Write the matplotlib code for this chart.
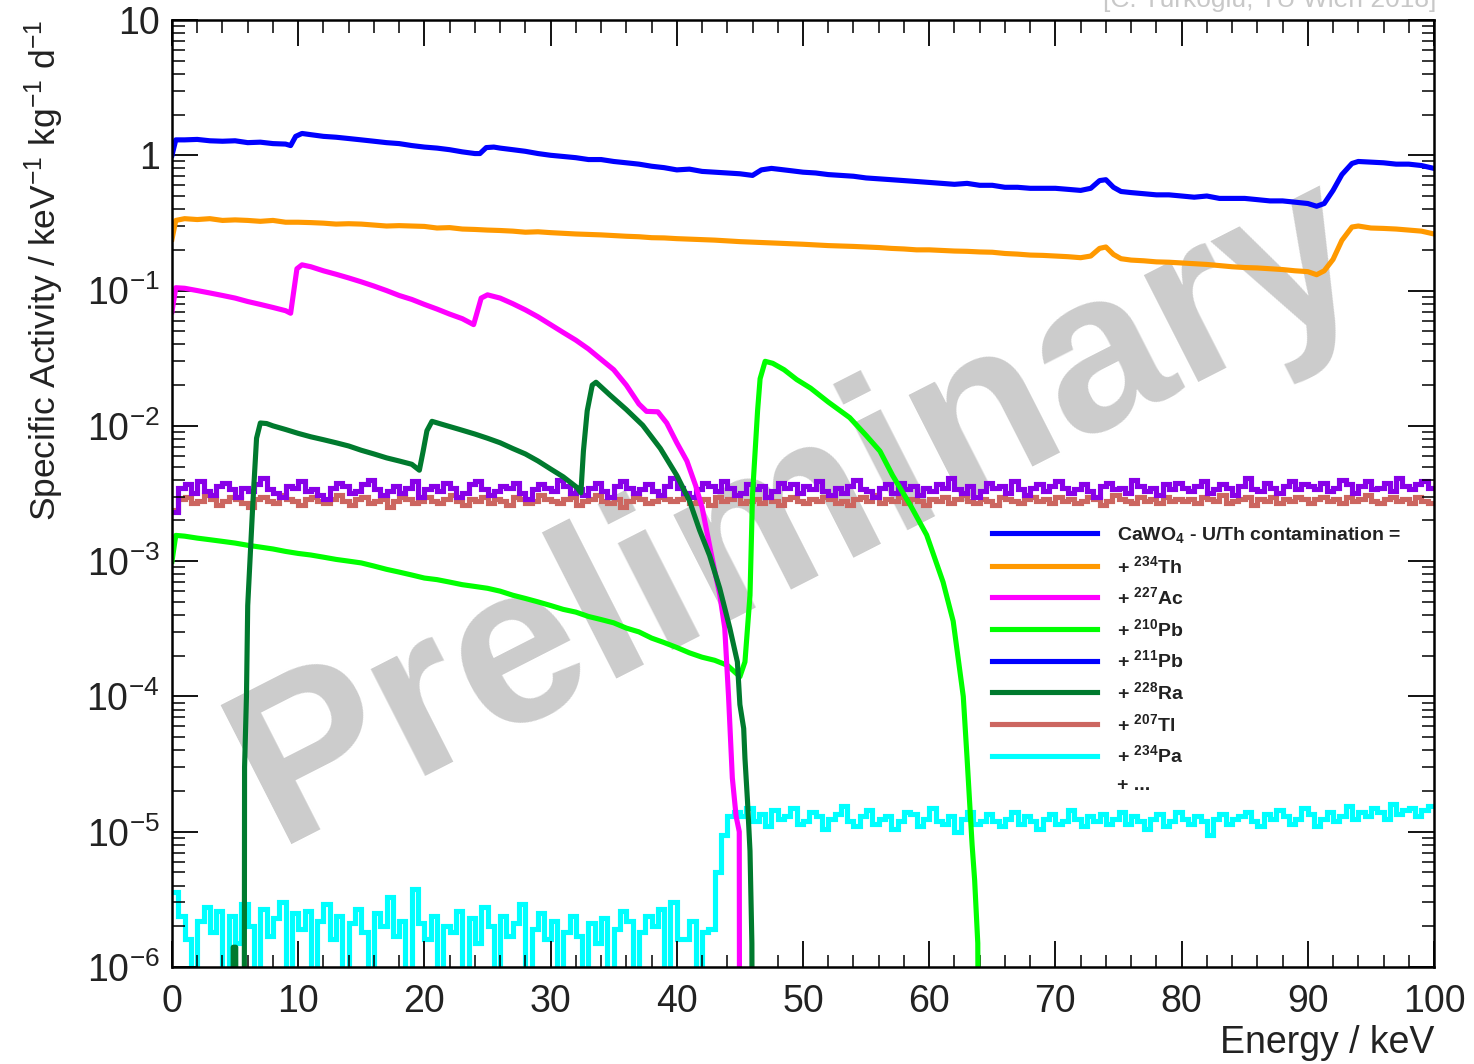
import numpy as np
import matplotlib
matplotlib.use("Agg")
import matplotlib.pyplot as plt
from matplotlib.lines import Line2D
from matplotlib.ticker import LogLocator, FuncFormatter, MultipleLocator

plt.rcParams["font.family"] = ["Liberation Sans", "DejaVu Sans"]
plt.rcParams["mathtext.fontset"] = "custom"
plt.rcParams["mathtext.rm"] = "Liberation Sans"
plt.rcParams["mathtext.it"] = "Liberation Sans:italic"
plt.rcParams["mathtext.bf"] = "Liberation Sans:bold"

# ---- smooth spectra (keV, counts / keV / kg / d) ----
total_x = [0, 0.3, 1, 2, 3, 4, 5, 6, 7, 8, 9, 9.4, 9.8, 10.3, 11, 12, 13, 14, 15, 16,
           17, 18, 19, 20, 21, 22, 23, 24, 24.4, 24.9, 25.5, 26, 27, 28, 29, 30, 31, 32, 33, 34,
           35, 36, 37, 38, 39, 40, 41, 42, 43, 44, 45, 46, 46.7, 47.5, 48, 49, 50, 51, 52, 53,
           54, 55, 56, 57, 58, 59, 60, 61, 62, 63, 64, 65, 66, 67, 68, 69, 70, 71, 72, 72.8,
           73.5, 74, 74.6, 75.2, 76, 77, 78, 79, 80, 81, 82, 83, 84, 85, 86, 87, 88, 89, 90, 90.7,
           91.3, 92, 92.7, 93.5, 94, 95, 96, 97, 98, 99, 100]
total_y = [1.0, 1.30, 1.30, 1.31, 1.28, 1.27, 1.28, 1.24, 1.25, 1.22, 1.21, 1.18, 1.38, 1.45, 1.42, 1.38, 1.36, 1.33, 1.30, 1.27,
           1.24, 1.22, 1.18, 1.15, 1.13, 1.10, 1.06, 1.03, 1.03, 1.14, 1.15, 1.13, 1.10, 1.07, 1.03, 1.00, 0.98, 0.96, 0.93, 0.93,
           0.90, 0.88, 0.86, 0.83, 0.81, 0.78, 0.79, 0.76, 0.75, 0.74, 0.73, 0.71, 0.78, 0.80, 0.79, 0.77, 0.75, 0.74, 0.72, 0.71,
           0.70, 0.68, 0.67, 0.66, 0.65, 0.64, 0.63, 0.62, 0.61, 0.62, 0.60, 0.60, 0.58, 0.58, 0.57, 0.57, 0.57, 0.56, 0.55, 0.57,
           0.65, 0.66, 0.58, 0.54, 0.53, 0.52, 0.51, 0.51, 0.50, 0.49, 0.50, 0.48, 0.48, 0.48, 0.47, 0.46, 0.46, 0.45, 0.44, 0.42,
           0.44, 0.55, 0.72, 0.87, 0.90, 0.89, 0.88, 0.86, 0.86, 0.84, 0.80]

th234_x = [0, 0.3, 1, 2, 3, 4, 5, 6, 7, 8, 9, 10, 11, 12, 13, 14, 15, 16, 17, 18,
           19, 20, 21, 22, 23, 24, 25, 26, 27, 28, 29, 30, 31, 32, 33, 34, 35, 36, 37, 38,
           39, 40, 41, 42, 43, 44, 45, 46, 47, 48, 49, 50, 52, 54, 55, 56, 57, 58, 59, 60,
           61, 62, 63, 64, 65, 66, 67, 68, 69, 70, 71, 72, 72.8, 73.5, 74, 74.6, 75.2, 76, 77, 78,
           79, 80, 81, 82, 83, 84, 85, 86, 87, 88, 89, 90, 90.7, 91.3, 92, 92.7, 93.5, 94, 95, 96,
           97, 98, 99, 100]
th234_y = [0.24, 0.33, 0.34, 0.335, 0.34, 0.33, 0.333, 0.33, 0.325, 0.33, 0.32, 0.32, 0.318, 0.315, 0.31, 0.312, 0.31, 0.305, 0.30, 0.302,
           0.30, 0.298, 0.29, 0.292, 0.285, 0.283, 0.28, 0.278, 0.275, 0.27, 0.272, 0.268, 0.265, 0.262, 0.26, 0.258, 0.255, 0.252, 0.25, 0.246,
           0.245, 0.242, 0.24, 0.238, 0.236, 0.233, 0.23, 0.228, 0.226, 0.224, 0.222, 0.22, 0.215, 0.212, 0.21, 0.208, 0.205, 0.203, 0.20, 0.20,
           0.198, 0.196, 0.195, 0.193, 0.192, 0.188, 0.186, 0.183, 0.182, 0.18, 0.178, 0.175, 0.18, 0.205, 0.21, 0.185, 0.172, 0.168, 0.166, 0.163,
           0.162, 0.16, 0.158, 0.156, 0.153, 0.15, 0.148, 0.147, 0.145, 0.143, 0.14, 0.138, 0.131, 0.14, 0.17, 0.235, 0.295, 0.30, 0.29, 0.288,
           0.285, 0.28, 0.275, 0.262]

ac227_x = [0, 0.3, 1, 2, 3, 4, 5, 6, 7, 8, 9, 9.4, 9.9, 10.3, 11, 12, 13, 14, 15, 16,
           17, 18, 19, 20, 21, 22, 23, 23.9, 24.5, 25, 26, 27, 28, 29, 30, 31, 32, 33, 34, 35,
           36, 37, 37.6, 38.5, 39.2, 40, 40.8, 41.5, 42, 42.6, 43, 43.4, 43.8, 44.1, 44.4, 44.7, 44.95, 45.0, 100]
ac227_y = [0.07, 0.105, 0.104, 0.10, 0.096, 0.092, 0.088, 0.083, 0.079, 0.075, 0.071, 0.068, 0.145, 0.155, 0.150, 0.140, 0.132, 0.124, 0.116, 0.108,
           0.100, 0.092, 0.086, 0.079, 0.073, 0.067, 0.062, 0.056, 0.088, 0.093, 0.088, 0.080, 0.072, 0.064, 0.056, 0.049, 0.043, 0.037, 0.031, 0.026,
           0.020, 0.0145, 0.0128, 0.0127, 0.0105, 0.0075, 0.0055, 0.0036, 0.0025, 0.0013, 8.5e-4, 5.7e-4, 3.2e-4, 1.0e-4, 2.5e-5, 1.3e-5, 1.0e-5, 1e-9, 1e-9]

pb210_x = [0, 0.3, 1, 2, 3, 4, 5, 6, 7, 8, 9, 10, 11, 12, 13, 14, 15, 16, 17, 18,
           19, 20, 21, 22, 23, 24, 25, 26, 27, 28, 29, 30, 31, 32, 33, 34, 35, 36, 37, 38,
           39, 40, 41, 42, 43, 44, 45, 45.4, 45.8, 46.0, 46.4, 46.6, 47.0, 47.6, 48.5, 49.5, 50.6, 52, 53.7, 55,
           56.1, 57.1, 58.5, 59.8, 61.1, 61.9, 62.7, 63.0, 63.4, 63.6, 63.85, 64.0, 100]
pb210_y = [1.0e-3, 1.55e-3, 1.53e-3, 1.48e-3, 1.44e-3, 1.40e-3, 1.36e-3, 1.31e-3, 1.27e-3, 1.23e-3, 1.18e-3, 1.14e-3, 1.11e-3, 1.07e-3, 1.03e-3, 1.0e-3, 9.7e-4, 9.2e-4, 8.7e-4, 8.3e-4,
           7.9e-4, 7.5e-4, 7.3e-4, 7.0e-4, 6.7e-4, 6.5e-4, 6.3e-4, 6.0e-4, 5.6e-4, 5.3e-4, 5.0e-4, 4.7e-4, 4.4e-4, 4.2e-4, 3.9e-4, 3.7e-4, 3.5e-4, 3.2e-4, 3.0e-4, 2.7e-4,
           2.5e-4, 2.3e-4, 2.1e-4, 1.95e-4, 1.85e-4, 1.7e-4, 1.4e-4, 1.8e-4, 5.6e-4, 3.1e-3, 0.0129, 0.0223, 0.030, 0.029, 0.026, 0.022, 0.019, 0.015, 0.0115, 0.0085,
           0.0065, 0.0043, 0.0026, 0.00156, 7.0e-4, 3.6e-4, 1.0e-4, 3.5e-5, 8e-6, 4.4e-6, 1.5e-6, 1e-9, 1e-9]

ra228_x = [0, 4.8, 4.85, 5.05, 5.1, 5.7, 5.75, 5.9, 6.0, 6.4, 6.7, 7.0, 7.5, 8, 9, 10, 11, 12, 13, 14,
           15, 16, 17, 18, 19, 19.6, 19.9, 20.2, 20.6, 21.5, 22.8, 24, 25, 26, 27, 28, 29, 30, 31, 32.1,
           32.4, 32.6, 32.9, 33.3, 33.6, 34.7, 36, 37.3, 38.7, 40.0, 41.0, 41.8, 42.6, 43.4, 44.2, 44.8, 45.0, 45.3, 45.4, 45.6,
           45.8, 45.95, 46.05, 100]
ra228_y = [1e-9, 1e-9, 1.4e-6, 1.4e-6, 1e-9, 1e-9, 3e-5, 1.0e-4, 4.7e-4, 2.6e-3, 8.1e-3, 0.0105, 0.0104, 0.0100, 0.0094, 0.0088, 0.0083, 0.0079, 0.0075, 0.0071,
           0.0066, 0.0062, 0.0058, 0.0055, 0.0052, 0.0047, 0.0065, 0.0092, 0.0108, 0.0102, 0.0094, 0.0087, 0.0081, 0.0075, 0.0068, 0.0062, 0.0055, 0.0048, 0.0042, 0.0035,
           0.0032, 0.0065, 0.0129, 0.020, 0.021, 0.0169, 0.0132, 0.0101, 0.0068, 0.0043, 0.0028, 0.0017, 0.0011, 6.3e-4, 3.2e-4, 1.8e-4, 8.7e-5, 5.8e-5, 3.5e-5, 1.7e-5,
           7.2e-6, 1.5e-6, 1e-9, 1e-9]

# ---- noisy spectra, 0.5 keV bins from 0 to 100 keV ----
violet_e3 = [2.3, 3.5, 3.7, 3.2, 3.9, 3.3, 3.1, 3.6, 3.8, 3.4, 3.0, 3.5, 3.3, 3.7, 4.1, 3.4, 3.2, 3.0, 3.6, 3.5,
             3.9, 3.3, 3.4, 3.1, 2.9, 3.5, 3.8, 3.6, 3.2, 3.3, 3.7, 4.0, 3.4, 3.1, 3.3, 3.6, 3.2, 3.5, 3.9, 3.0,
             3.4, 3.6, 3.3, 3.8, 3.5, 3.0, 3.2, 3.7, 3.9, 3.4, 3.1, 3.3, 3.6, 3.5, 3.8, 3.2, 2.9, 3.4, 3.7, 3.5,
             3.3, 4.0, 3.6, 3.2, 3.4, 3.1, 3.5, 3.8, 3.3, 3.0, 3.6, 3.9, 3.5, 3.2, 3.4, 3.7, 3.3, 3.1, 3.6, 4.1,
             3.5, 3.2, 3.0, 3.4, 3.8, 3.6, 3.3, 3.9, 3.5, 3.1, 3.2, 3.7, 3.4, 3.6, 3.0, 3.3, 3.8, 3.5, 3.7, 3.2,
             3.6, 3.4, 3.9, 3.3, 3.1, 3.5, 3.2, 3.6, 4.0, 3.4, 3.3, 3.0, 3.5, 3.7, 3.2, 3.8, 3.4, 3.6, 3.1, 3.5,
             3.3, 3.7, 3.5, 4.1, 3.4, 3.2, 3.6, 3.0, 3.3, 3.8, 3.5, 3.6, 3.2, 3.9, 3.4, 3.1, 3.5, 3.7, 3.3, 3.6,
             3.9, 3.5, 3.2, 3.4, 3.7, 3.3, 3.0, 3.6, 3.8, 3.4, 3.5, 3.2, 4.0, 3.6, 3.3, 3.5, 3.1, 3.7, 3.4, 3.8,
             3.5, 3.3, 3.6, 3.9, 3.2, 3.4, 3.7, 3.5, 3.1, 3.6, 4.1, 3.4, 3.3, 3.8, 3.5, 3.2, 3.6, 3.9, 3.4, 3.7,
             3.6, 3.4, 3.8, 3.3, 3.5, 4.0, 3.7, 3.2, 3.6, 3.9, 3.4, 3.5, 3.8, 3.3, 4.1, 3.6, 3.4, 3.7, 3.9, 3.5]

tl207_e3 = [2.4, 2.9, 3.0, 2.7, 2.8, 3.1, 2.9, 2.6, 2.8, 3.0, 2.9, 2.7, 2.5, 2.9, 3.0, 2.8, 2.7, 3.1, 2.9, 2.8,
            2.6, 2.9, 3.0, 2.8, 2.7, 2.9, 3.1, 2.8, 2.6, 2.9, 3.0, 2.7, 2.8, 2.9, 2.5, 2.8, 3.0, 2.9, 2.7, 2.8,
            3.0, 2.8, 2.7, 2.9, 3.1, 2.8, 2.6, 2.9, 2.8, 3.0, 2.7, 2.9, 2.8, 2.6, 3.0, 2.9, 2.7, 2.8, 3.1, 2.9,
            2.8, 2.7, 2.9, 3.0, 2.6, 2.8, 2.9, 3.1, 2.8, 2.7, 2.9, 2.5, 2.8, 3.0, 2.9, 2.7, 2.8, 3.0, 2.9, 2.8,
            2.9, 3.0, 2.7, 2.8, 2.9, 2.6, 3.0, 2.8, 2.9, 3.1, 2.7, 2.8, 2.9, 2.7, 3.0, 2.8, 2.6, 2.9, 3.0, 2.8,
            2.7, 2.9, 2.8, 3.0, 2.9, 2.7, 2.8, 2.6, 2.9, 3.0, 2.8, 3.1, 2.7, 2.9, 2.8, 3.0, 2.7, 2.9, 2.8, 2.6,
            2.9, 2.8, 3.0, 2.7, 2.9, 3.1, 2.8, 2.7, 2.9, 2.8, 2.6, 3.0, 2.9, 2.8, 2.7, 2.9, 3.0, 2.8, 2.9, 2.7,
            3.0, 2.8, 2.9, 2.7, 2.8, 3.0, 2.9, 2.6, 2.8, 3.1, 2.9, 2.8, 2.7, 3.0, 2.8, 2.9, 2.7, 3.0, 2.8, 2.9,
            2.8, 2.9, 2.7, 3.0, 2.9, 2.8, 3.1, 2.7, 2.8, 2.9, 3.0, 2.6, 2.9, 2.8, 3.0, 2.7, 2.9, 2.8, 3.0, 2.9,
            2.7, 2.9, 3.0, 2.8, 2.9, 2.7, 3.0, 2.8, 2.9, 3.1, 2.8, 2.7, 2.9, 3.0, 2.8, 2.9, 2.7, 3.0, 2.8, 2.7]

pa234_e6 = [3.6, 2.4, 1.6, 0, 2.2, 2.8, 1.8, 2.6, 0, 2.4, 1.5, 2.9, 2.0, 0, 2.7, 1.7, 2.3, 3.0, 0, 2.5,
            1.9, 2.6, 0, 2.2, 2.9, 1.6, 2.4, 0, 2.1, 2.7, 1.8, 0, 2.5, 2.0, 3.3, 1.7, 2.2, 0, 3.8, 2.1,
            1.6, 2.4, 0, 2.0, 1.8, 2.6, 0, 2.3, 1.5, 2.8, 2.0, 0, 2.4, 1.7, 2.1, 2.9, 0, 1.9, 2.5, 1.6,
            2.2, 0, 1.8, 2.4, 1.7, 0, 2.1, 1.5, 2.3, 0, 1.9, 2.6, 2.2, 0, 1.8, 2.4, 2.0, 2.7, 0, 3.0,
            1.6, 1.6, 2.2, 0, 1.8, 1.9, 5.0, 9.5, 13.0,
            14, 13, 15, 12, 13.5, 11, 14.5, 12.5, 13, 15, 11.5, 12, 14, 13, 10.5, 12.5, 13.5, 15.5, 12, 11,
            13, 14.5, 11.5, 12.5, 13, 10.5, 12, 14, 13.5, 11, 12.5, 15, 12, 11.5, 13, 10, 12.5, 14, 11.5, 12,
            13.5, 12, 11, 12.5, 14, 11.5, 13, 12, 10.5, 12.5, 13.5, 11.5, 12, 14.5, 12.5, 11, 13, 12, 13.5, 11.5,
            12.5, 14, 11.5, 13, 12, 10.5, 12.5, 13.5, 11, 12, 14, 12.5, 11.5, 13, 12, 9.5, 12.5, 13.5, 11.5, 12.5,
            13, 14, 12, 11, 13.5, 12.5, 14.5, 13, 11.5, 12.5, 15, 13.5, 11, 12.5, 14, 12, 13, 15.5, 12.5, 14,
            13, 15, 14, 12.5, 16, 13.5, 14.5, 15, 13, 14.5, 15.5]

edges = np.linspace(0, 100, 201)
legend_labels = [r"CaWO$_{\mathbf{4}}$ - U/Th contamination =",
                 r"+ $^{\mathbf{234}}$Th", r"+ $^{\mathbf{227}}$Ac", r"+ $^{\mathbf{210}}$Pb",
                 r"+ $^{\mathbf{211}}$Pb", r"+ $^{\mathbf{228}}$Ra", r"+ $^{\mathbf{207}}$Tl",
                 r"+ $^{\mathbf{234}}$Pa", "+ ..."]
legend_colors = ["#0000ff", "#ff9900", "#ff00ff", "#00ff00", "#0000ff",
                 "#007a2e", "#cc6660", "#00ffff", "none"]

fig = plt.figure(figsize=(14.74, 10.64), dpi=100)
ax = fig.add_axes([172 / 1474, 1 - 967 / 1064, 1262 / 1474, 947 / 1064])

lw = 3.7
ax.stairs(np.array(tl207_e3) * 1e-3, edges, color="#cc6660", lw=lw, baseline=None)
ax.stairs(np.array(violet_e3) * 1e-3, edges, color="#8800e8", lw=lw, baseline=None)
ax.stairs(np.clip(np.array(pa234_e6) * 1e-6, 1e-9, None), edges, color="#00ffff", lw=lw, baseline=None)
ax.plot(pb210_x, pb210_y, color="#00ff00", lw=lw)
ax.plot(ac227_x, ac227_y, color="#ff00ff", lw=lw)
ax.plot(ra228_x, ra228_y, color="#007a2e", lw=lw)
ax.plot(th234_x, th234_y, color="#ff9900", lw=lw)
ax.plot(total_x, total_y, color="#0000ff", lw=lw)

ax.text(0.497, 0.48, "Preliminary", transform=ax.transAxes, rotation=27,
        fontsize=163, fontweight="bold", color="#cccccc", ha="center", va="center",
        zorder=0.5)

ax.set_xlim(0, 100)
ax.set_yscale("log")
ax.set_ylim(1e-6, 10)
ax.xaxis.set_major_locator(MultipleLocator(10))
ax.xaxis.set_minor_locator(MultipleLocator(2))
ax.yaxis.set_major_locator(LogLocator(base=10, numticks=20))
ax.yaxis.set_minor_locator(LogLocator(base=10, subs=np.arange(2, 10), numticks=20))


def log_label(v, pos):
    e = int(round(np.log10(v)))
    if e == 1:
        return "10"
    if e == 0:
        return "1"
    return r"$\mathregular{10^{%d}}$" % e


ax.yaxis.set_major_formatter(FuncFormatter(log_label))
ax.tick_params(which="both", direction="in", top=True, right=True,
               labelsize=27, labelcolor="#222222")
ax.tick_params(which="major", length=19, width=1.3)
ax.tick_params(which="minor", length=9, width=1.1)
ax.tick_params(axis="x", pad=12)
ax.tick_params(axis="y", pad=9)
for s in ax.spines.values():
    s.set_linewidth(1.8)

ax.set_xlabel("Energy / keV", fontsize=27, loc="right", color="#222222")
ax.set_ylabel(r"Specific Activity / keV$^{\mathregular{-1}}$ kg$^{\mathregular{-1}}$ d$^{\mathregular{-1}}$",
              fontsize=25.5, loc="top", color="#222222")
ax.yaxis.set_label_coords(-0.084, 1.0)

handles = [Line2D([], [], color=c, lw=lw) for c in legend_colors]
leg = ax.legend(handles, legend_labels, loc="upper left", bbox_to_anchor=(0.6498, 0.4667),
                frameon=False, borderpad=0, borderaxespad=0, handlelength=5.4,
                handletextpad=1.05, labelspacing=0.5,
                prop={"family": "Liberation Sans", "weight": "bold", "size": 14})
for t in leg.get_texts():
    t.set_color("#222222")

fig.text(1436 / 1474, 1 - 7 / 1064, "[C. Türkoğlu, TU Wien 2018]", ha="right",
         va="baseline", fontsize=19, color="#c8c8c8")

fig.savefig("out.png", dpi=100)
